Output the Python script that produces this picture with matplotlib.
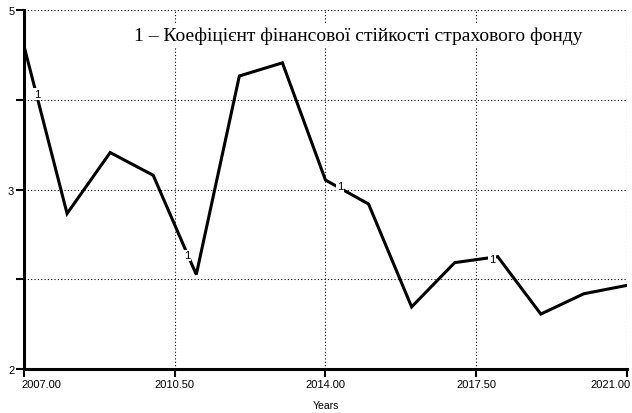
import matplotlib.pyplot as plt
import matplotlib.transforms as mtransforms

years = list(range(2007, 2022))
values = [4.70, 3.30, 3.81, 3.62, 2.79, 4.45, 4.56, 3.58, 3.38, 2.52, 2.89, 2.94, 2.46, 2.63, 2.70]

xticks = [2007, 2010.5, 2014, 2017.5, 2021]
xlabels = ['2007.00', '2010.50', '2014.00', '2017.50', '2021.00']
yticks = [2, 2.75, 3.5, 4.25, 5]
ylabels = ['2', '', '3', '', '5']

# positions of the "1" markers along the line
mark_x = [2007.3, 2010.78, 2014.34, 2017.87]
mark_y = [4.30, 2.95, 3.53, 2.92]

fig = plt.figure(figsize=(6.32, 4.14), dpi=100)
ax = fig.add_axes([0.038, 0.106, 0.954, 0.867])

ax.plot(years, values, color='black', lw=2.2, solid_joinstyle='miter', zorder=3)
for mx, my in zip(mark_x, mark_y):
    ax.text(mx, my, '1', fontsize=8, family='Liberation Sans', ha='center', va='center',
            bbox=dict(facecolor='white', edgecolor='none', pad=0.5), zorder=4)

ax.set_xlim(2007, 2021)
ax.set_ylim(2, 5)
ax.set_xticks(xticks)
ax.set_xticklabels(xlabels)
ax.set_yticks(yticks)
ax.set_yticklabels(ylabels)
ax.grid(True, color='black', ls=(0, (1, 2)), lw=0.8)
ax.set_axisbelow(True)

for s in ['top', 'right']:
    ax.spines[s].set_visible(False)
for s in ['left', 'bottom']:
    ax.spines[s].set_linewidth(2.2)
ax.tick_params(direction='out', length=6, width=1.5, labelsize=8, pad=1)
for lab in ax.get_xticklabels() + ax.get_yticklabels():
    lab.set_family('Liberation Sans')

xl = ax.get_xticklabels()
xl[0].set_transform(xl[0].get_transform() + mtransforms.ScaledTranslation(17 / 100, 0, fig.dpi_scale_trans))
xl[-1].set_horizontalalignment('right')
xl[-1].set_transform(xl[-1].get_transform() + mtransforms.ScaledTranslation(4 / 100, 0, fig.dpi_scale_trans))

ax.set_xlabel('Years', fontsize=7.5, family='Liberation Sans', labelpad=8)

ax.text(2014.75, 4.79, '1 – Коефіцієнт фінансової стійкості страхового фонду',
        fontsize=14, family='Liberation Serif', ha='center', va='center',
        bbox=dict(facecolor='white', edgecolor='none', pad=2), zorder=4)

fig.savefig('out.png', dpi=100)
